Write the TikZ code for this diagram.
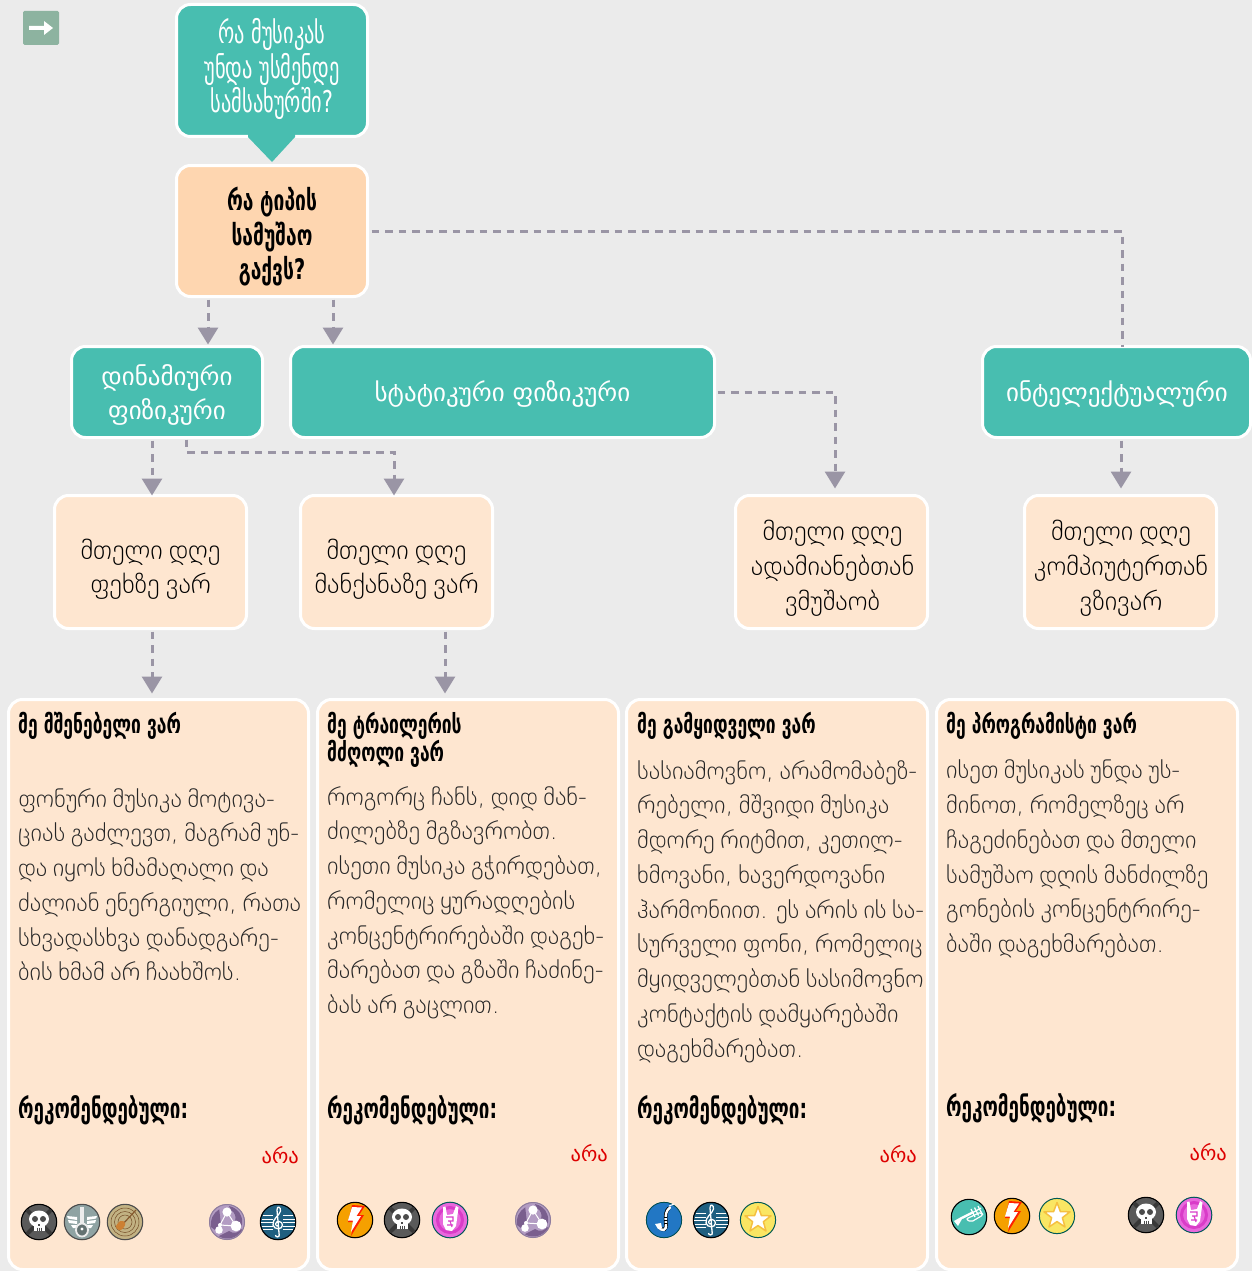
\documentclass[tikz,border=0pt]{standalone}
\usepackage{fontspec}
\usetikzlibrary{arrows.meta}
\setmainfont{DejaVu Sans}
\newfontfamily\medf{DejaVu Sans ExtraLight}
\newfontfamily\bodyf[WordSpace=0.72]{DejaVu Sans ExtraLight}
\newfontfamily\capf[FakeStretch=0.68]{DejaVu Sans}
\definecolor{bgc}{HTML}{EBEBEB}
\definecolor{tealc}{HTML}{48BEB0}
\definecolor{peachc}{HTML}{FED6B0}
\definecolor{lightc}{HTML}{FEE6D0}
\definecolor{conc}{HTML}{9A95A5}
\definecolor{redc}{HTML}{DD0000}
\definecolor{menuc}{HTML}{8DB3A0}
\definecolor{skullc}{HTML}{5A5A5A}
\definecolor{wingc}{HTML}{8FA3A3}
\definecolor{tanc}{HTML}{C2B283}
\definecolor{trioc}{HTML}{B39CC3}
\definecolor{triod}{HTML}{7A5F8E}
\definecolor{clefc}{HTML}{1F5F80}
\definecolor{boltc}{HTML}{F5A000}
\definecolor{rockc}{HTML}{E868DC}
\definecolor{rockd}{HTML}{D93CC8}
\definecolor{saxc}{HTML}{2277C4}
\definecolor{starc}{HTML}{FAE663}
\definecolor{stare}{HTML}{F5C040}
\tikzset{
  boxb/.style={draw=white,line width=3pt,rounded corners=14pt,outer sep=0pt,inner sep=0pt},
  tealb/.style={boxb,fill=tealc,minimum width=#1},
  peachb/.style={boxb,fill=lightc,minimum width=192pt,minimum height=133pt},
  cardb/.style={boxb,fill=lightc,minimum width=#1,minimum height=570pt},
  titlet/.style={align=center,inner sep=0pt,text=white,font=\capf\fontsize{30}{34.8}\selectfont},
  qt/.style={align=center,inner sep=0pt,text=black,font=\capf\bfseries\fontsize{28.3}{34.5}\selectfont},
  whitet/.style={align=center,inner sep=0pt,text=white,font=\fontsize{25}{34.5}\selectfont},
  medt/.style={align=center,inner sep=0pt,text=black,font=\medf\fontsize{26.5}{#1}\selectfont},
  headt/.style={anchor=north west,align=left,inner sep=0pt,font=\capf\bfseries\fontsize{25.7}{27}\selectfont},
  bodyt/.style={anchor=north west,align=left,inner sep=0pt,font=\bodyf\fontsize{24.4}{34.75}\selectfont,text=black!85},
  rect/.style={anchor=north west,inner sep=0pt,font=\capf\bfseries\fontsize{27.7}{27}\selectfont},
  noct/.style={anchor=east,inner sep=0pt,text=redc,font=\fontsize{20.5}{26}\selectfont},
  connp/.style={draw=conc,line width=3pt,dash pattern=on 7.5pt off 6pt},
  conn/.style={connp,-{Triangle[width=20pt,length=17pt]}}
}
\newcommand\icbase[2]{\fill[#1] (0,0) circle (18); \draw[#2,line width=1.1pt] (0,0) circle (17.7);}
\newcommand\icSkull[2]{\begin{scope}[shift={(#1,#2)}]
  \icbase{skullc}{black}
  \draw[black!78,line width=4pt,line cap=round] (-11,-11)--(11,11) (11,-11)--(-11,11);
  \fill[white] (0,-3) ellipse (10 and 8.5);
  \fill[white] (-5.5,1) rectangle (5.5,9);
  \fill[black!70] (-4,-3) circle (3) (4,-3) circle (3);
  \fill[black!70] (-1,2) rectangle (1,3.6);
  \draw[black!70,line width=.7pt] (-2,5.5)--(-2,9) (0,5.5)--(0,9) (2,5.5)--(2,9);
\end{scope}}
\newcommand\icWing[2]{\begin{scope}[shift={(#1,#2)}]
  \icbase{wingc}{black!70}
  \fill[white] (-5,-5)--(-15,-6)--(-14,-3.5)--(-5,-2)--cycle (5,-5)--(15,-6)--(14,-3.5)--(5,-2)--cycle;
  \fill[white] (-5,-1)--(-14,-2)--(-13,1)--(-5,2)--cycle (5,-1)--(14,-2)--(13,1)--(5,2)--cycle;
  \fill[white] (-5,3)--(-11,3)--(-9,6)--(-5,6)--cycle (5,3)--(11,3)--(9,6)--(5,6)--cycle;
  \fill[white!85!gray] (-1.7,-15) rectangle (1.7,4);
  \draw[white!85!gray,line width=1.8pt,fill=wingc!70!black] (0,8) ellipse (6 and 6.5);
  \fill[white] (0,7) circle (1.6);
\end{scope}}
\newcommand\icTan[2]{\begin{scope}[shift={(#1,#2)}]
  \icbase{tanc}{black!70}
  \draw[brown!60!black,line width=.5pt] (0,0) circle (14) (0,0) circle (10.5) (0,0) circle (7);
  \draw[brown!70!black,line width=1.2pt] (-3,3)--(11,-12);
  \fill[brown!80!orange] (-9,4) .. controls (-6,-1) and (-4,-2) .. (-2,-1) .. controls (0,0) and (1,2) .. (0,3) .. controls (-1,6) and (-4,9) .. (-6,8) .. controls (-8,8) and (-9,6) .. (-9,4) -- cycle;
\end{scope}}
\newcommand\icTrio[2]{\begin{scope}[shift={(#1,#2)}]
  \fill[trioc] (0,0) circle (18);
  \draw[trioc!80!black,line width=1pt] (0,0) circle (17.5);
  \fill[triod] (2,-16) arc (-80:20:16) -- (8,-1) arc (20:-60:9) -- cycle;
  \fill[triod] (15,8) arc (30:120:17) -- (2,9) arc (130:30:8) -- cycle;
  \fill[triod] (-16,5) arc (170:240:17) -- (-6,3) arc (230:170:8) -- cycle;
  \draw[white,line width=1pt] (0,-10)--(-7,3)--(9,4)--cycle (-7,3)--(-8,8);
  \fill[white] (0,-10) circle (4.6) (9,4) circle (5.4) (-8,8) circle (3.8) (-7,3) circle (2);
\end{scope}}
\newcommand\icClef[2]{\begin{scope}[shift={(#1,#2)}]
  \icbase{clefc}{black}
  \draw[white,line width=1pt] (-15,-6.5)--(-5,-6.5) (5,-6.5)--(15,-6.5) (-16.5,-3)--(-5,-3) (5,-3)--(16.5,-3) (-17,.5)--(-5,.5) (5,.5)--(17,.5) (-16.5,4)--(-5,4) (5,4)--(16.5,4) (-15,7.5)--(-5,7.5) (5,7.5)--(15,7.5);
  \draw[white,line width=1.3pt] (1.2,13) .. controls (2,15) and (-2.5,16) .. (-2.5,13) (1.2,13) -- (-1,-12) .. controls (-1,-17) and (3,-15) .. (2.5,-11) .. controls (2,-7) and (-6,-3) .. (-5,3) .. controls (-4,8) and (4.5,8) .. (4.5,3) .. controls (4.5,-1) and (-2,-2) .. (-2.5,2) .. controls (-2.5,3.5) and (-1,4.5) .. (0,4);
\end{scope}}
\newcommand\icBolt[2]{\begin{scope}[shift={(#1,#2)}]
  \icbase{boltc}{black}
  \fill[red!75!orange] (-3,-15)--(10,-14)--(4,-5)--(9,-5)--(-4,16)--(-1,2)--(-7,2)--cycle;
  \fill[white] (-3,-13)--(7,-12.5)--(1.5,-4)--(6,-4)--(-4,12)--(-2,0.5)--(-7,0.5)--cycle;
\end{scope}}
\newcommand\icRock[2]{\begin{scope}[shift={(#1,#2)}]
  \fill[rockc] (0,0) circle (18);
  \draw[teal!70!black,line width=1pt] (0,0) circle (17.8);
  \draw[rockd,line width=3pt] (0,0) circle (12.5);
  \fill[white] (-7,-13)--(-4.5,-13.5)--(-3,-5)--(3,-6)--(6,-14)--(8.5,-12.5)--(7,-1)--(6,6)--(2,11)--(-4,10)--(-7,4)--cycle;
  \draw[rockd,line width=1.1pt] (-4,-3)--(3,-3)--(3,1)--(-2,1) (-3,5)--(3,5) (0,1)--(2,7);
\end{scope}}
\newcommand\icSax[2]{\begin{scope}[shift={(#1,#2)}]
  \fill[saxc] (0,0) circle (18);
  \draw[teal!60!black,line width=.8pt] (0,0) circle (17.7);
  \draw[black,line width=3.6pt,line cap=round] (5,-12) .. controls (2,-9) and (1,-6) .. (2,4) .. controls (3,9) and (-1,12) .. (-5,7);
  \draw[white,line width=2.4pt,line cap=round] (6,-12.5) .. controls (2,-9) and (1,-6) .. (2,4) .. controls (3,10) and (-2,13) .. (-6,6);
  \fill[white] (-9,4)--(-3,3)--(-2,8)--(-6,9)--cycle;
  \draw[white,line width=1pt] (5,-14)--(10,-16);
  \draw[black,line width=.8pt] (0,-3)--(3,-3) (0,0)--(3,0) (0,3)--(3,3);
\end{scope}}
\newcommand\icStar[2]{\begin{scope}[shift={(#1,#2)}]
  \fill[starc] (0,0) circle (18);
  \draw[teal!70!black,line width=1pt] (0,0) circle (17.6);
  \draw[stare,line width=1.5pt,fill=white,line join=round] (0,-13.5)--(3.4,-4.4)--(13,-4.2)--(5.4,1.7)--(8,11)--(0,5.6)--(-8,11)--(-5.4,1.7)--(-13,-4.2)--(-3.4,-4.4)--cycle;
\end{scope}}
\newcommand\icTrumpet[2]{\begin{scope}[shift={(#1,#2)}]
  \icbase{tealc}{black}
  \fill[white] (-15,4)--(-11,9)--(-7,2)--(5,-4)--(4,-6)--(-8,0)--cycle;
  \draw[white,line width=1.2pt,rounded corners=2pt] (-6,1)--(12,-9) (-3,2)--(12,-5)--(14,-2)--(2,5)--cycle;
  \draw[white,line width=1.2pt] (2,-8)--(6,0) (5.5,-9.5)--(9.5,-1.5) (9,-11)--(13,-3);
\end{scope}}
\begin{document}
\begin{tikzpicture}[x=1pt,y=-1pt]
\useasboundingbox (0,0) rectangle (1252,1271);
\fill[bgc] (0,0) rectangle (1252,1271);
% menu arrow
\fill[rounded corners=1.5pt,fill=menuc] (23,11) rectangle (59,45);
\fill[white] (29,26)--(44,26)--(44,21)--(53,28)--(44,35)--(44,30)--(29,30)--cycle;
% boxes
\node[tealb=191pt,minimum height=132pt] (title) at (272,70.5) {};
\fill[tealc] (248,134)--(295,134)--(295,137)--(272,162)--(248,137)--cycle;
\node[titlet] (titlet) at (272,69) {რა მუსიკას\\უნდა უსმენდე\\სამსახურში?};
\node[boxb,fill=peachc,minimum width=191pt,minimum height=131pt] (q) at (272,231) {};
\node[qt] (qtext) at (272,237) {რა ტიპის\\სამუშაო\\გაქვს?};
\node[tealb=191pt,minimum height=91pt] (dyn) at (167,392) {};
\node[whitet] (dynt) at (167,395) {დინამიური\\ფიზიკური};
\node[tealb=424pt,minimum height=91pt] (stat) at (502.5,392) {};
\node[whitet] (statt) at (502.5,394) {სტატიკური ფიზიკური};
\node[tealb=268pt,minimum height=91pt] (intel) at (1116.5,392) {};
\node[whitet] (intelt) at (1117,394) {ინტელექტუალური};
\node[peachb] (b1) at (150.5,562) {};
\node[medt=33.5] (b1t) at (150.5,569) {მთელი დღე\\ფეხზე ვარ};
\node[peachb] (b2) at (396.5,562) {};
\node[medt=33.5] (b2t) at (396.5,569) {მთელი დღე\\მანქანაზე ვარ};
\node[peachb] (b3) at (831.5,562) {};
\node[medt=35] (b3t) at (832.5,568) {მთელი დღე\\ადამიანებთან\\ვმუშაობ};
\node[peachb] (b4) at (1120.5,562) {};
\node[medt=35] (b4t) at (1121,568) {მთელი დღე\\კომპიუტერთან\\ვზივარ};
\node[cardb=300pt] (c1) at (158.5,984.5) {};
\node[cardb=301pt] (c2) at (468,984.5) {};
\node[cardb=301pt] (c3) at (777,984.5) {};
\node[cardb=301pt] (c4) at (1087,984.5) {};
% connectors
\draw[conn,shorten <=3pt,shorten >=2pt] ([xshift=-64pt]q.south) -- ([xshift=41pt]dyn.north);
\draw[conn,shorten <=3pt,shorten >=2pt] ([xshift=61pt]q.south) -- ([xshift=-169.5pt]stat.north);
\draw[connp,shorten <=4pt] (q.east) -| ([xshift=5.5pt]intel.north);
\draw[conn,shorten <=3pt] ([xshift=-15pt]dyn.south) -- ([xshift=1.5pt]b1.north);
\draw[conn,shorten <=2pt] ([xshift=19pt]dyn.south) -- ++(0,14.5) -| ([xshift=-2.5pt]b2.north);
\draw[conn,shorten <=3pt,shorten >=7pt] (stat.east) -| ([xshift=3.5pt]b3.north);
\draw[conn,shorten <=3pt,shorten >=7pt] ([xshift=4.5pt]intel.south) -- ([xshift=.5pt]b4.north);
\draw[conn,shorten <=3pt,shorten >=6pt] ([xshift=1.5pt]b1.south) -- ([xshift=-6.5pt]c1.north);
\draw[conn,shorten <=3pt,shorten >=6pt] ([xshift=48.5pt]b2.south) -- ([xshift=-23pt]c2.north);
% card 1
\node[headt] (h1) at (18,712) {მე მშენებელი ვარ};
\node[bodyt] (t1) at (18,788) {ფონური მუსიკა მოტივა-\\ციას გაძლევთ, მაგრამ უნ-\\და იყოს ხმამაღალი და\\ძალიან ენერგიული, რათა\\სხვადასხვა დანადგარე-\\ბის ხმამ არ ჩაახშოს.};
\node[rect] (r1) at (18,1095) {რეკომენდებული:};
\node[noct] (n1) at (299,1155) {არა};
% card 2
\node[headt] (h2) at (327,712) {მე ტრაილერის\\მძღოლი ვარ};
\node[bodyt] (t2) at (327,786) {როგორც ჩანს, დიდ მან-\\ძილებზე მგზავრობთ.\\ისეთი მუსიკა გჭირდებათ,\\რომელიც ყურადღების\\კონცენტრირებაში დაგეხ-\\მარებათ და გზაში ჩაძინე-\\ბას არ გაცლით.};
\node[rect] (r2) at (327,1095) {რეკომენდებული:};
\node[noct] (n2) at (608,1153) {არა};
% card 3
\node[headt] (h3) at (637,712) {მე გამყიდველი ვარ};
\node[bodyt] (t3) at (637,760) {სასიამოვნო, არამომაბეზ-\\რებელი, მშვიდი მუსიკა\\მდორე რიტმით, კეთილ-\\ხმოვანი, ხავერდოვანი\\ჰარმონიით. ეს არის ის სა-\\სურველი ფონი, რომელიც\\მყიდველებთან სასიმოვნო\\კონტაქტის დამყარებაში\\დაგეხმარებათ.};
\node[rect] (r3) at (637,1095) {რეკომენდებული:};
\node[noct] (n3) at (917,1154) {არა};
% card 4
\node[headt] (h4) at (946,712) {მე პროგრამისტი ვარ};
\node[bodyt] (t4) at (946,760) {ისეთ მუსიკას უნდა უს-\\მინოთ, რომელზეც არ\\ჩაგეძინებათ და მთელი\\სამუშაო დღის მანძილზე\\გონების კონცენტრირე-\\ბაში დაგეხმარებათ.};
\node[rect] (r4) at (946,1093) {რეკომენდებული:};
\node[noct] (n4) at (1227,1152) {არა};
% icons
\icSkull{39}{1222}\icWing{82}{1222}\icTan{125}{1222}\icTrio{227}{1222}\icClef{278}{1222}
\icBolt{355}{1220}\icSkull{402}{1220}\icRock{450}{1220}\icTrio{533}{1220}
\icSax{664}{1220}\icClef{711}{1220}\icStar{758}{1220}
\icTrumpet{969}{1217}\icBolt{1012}{1216}\icStar{1057}{1216}\icSkull{1146}{1215}\icRock{1194}{1215}
\end{tikzpicture}
\end{document}
